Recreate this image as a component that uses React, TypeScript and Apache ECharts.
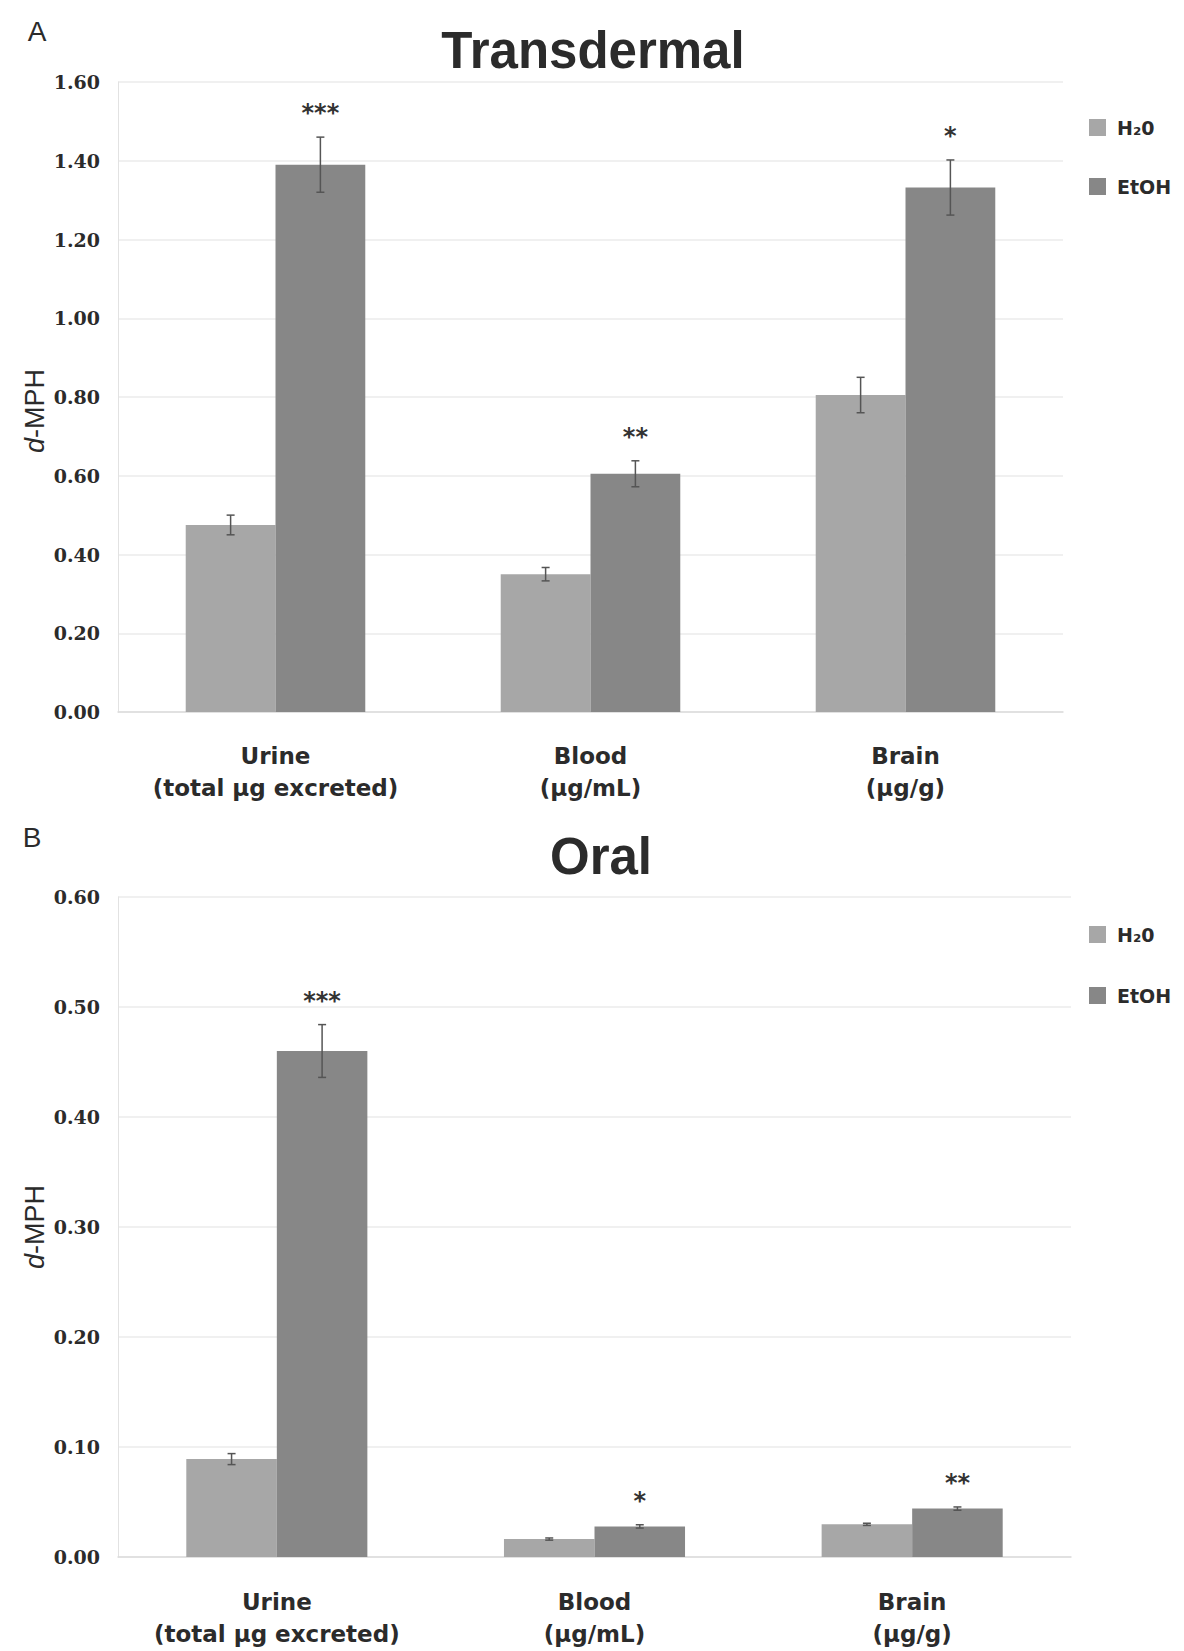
import React, { useEffect, useRef } from "react";
import * as echarts from "echarts";

const categories = ["Urine\n(total µg excreted)", "Blood\n(µg/mL)", "Brain\n(µg/g)"];
const seriesNames = ["H₂0", "EtOH"];

const transH2O = [0.475, 0.35, 0.805];
const transH2OErr = [0.025, 0.017, 0.045];
const transEtOH = [1.39, 0.605, 1.332];
const transEtOHErr = [0.07, 0.033, 0.07];
const transStars = ["***", "**", "*"];

const oralH2O = [0.089, 0.0163, 0.0297];
const oralH2OErr = [0.005, 0.001, 0.001];
const oralEtOH = [0.46, 0.0278, 0.044];
const oralEtOHErr = [0.024, 0.0015, 0.0015];
const oralStars = ["***", "*", "**"];

const transAxis = { min: 0, max: 1.6, interval: 0.2 };
const oralAxis = { min: 0, max: 0.6, interval: 0.1 };

const H2O_COLOR = "#a7a7a7";
const ETOH_COLOR = "#878787";
const TEXT = "#2b2b2b";
const GAP = 0.43;

function errSeries(
  xi: number,
  h2o: number[],
  h2oErr: number[],
  etoh: number[],
  etohErr: number[],
  stars: string[]
) {
  const data: number[][] = [];
  const labels: string[] = [];
  h2o.forEach((v, i) => {
    data.push([i, v, h2oErr[i], -1]);
    labels.push("");
  });
  etoh.forEach((v, i) => {
    data.push([i, v, etohErr[i], 1]);
    labels.push(stars[i]);
  });
  return {
    type: "custom",
    xAxisIndex: xi,
    yAxisIndex: xi,
    z: 5,
    silent: true,
    data,
    encode: { x: 0, y: 1 },
    renderItem: (params: any, api: any) => {
      const x = api.value(0);
      const v = api.value(1);
      const e = api.value(2);
      const side = api.value(3);
      const c = api.coord([x, v]);
      const catW = api.size([1, 0])[0];
      const bw = (catW * (1 - GAP)) / 2;
      const cx = c[0] + (side * bw) / 2;
      const top = api.coord([x, v + e])[1];
      const bot = api.coord([x, v - e])[1];
      const st = { stroke: "#555", lineWidth: 1.5 };
      const children: any[] = [
        { type: "line", shape: { x1: cx, y1: top, x2: cx, y2: bot }, style: st },
        { type: "line", shape: { x1: cx - 4, y1: top, x2: cx + 4, y2: top }, style: st },
        { type: "line", shape: { x1: cx - 4, y1: bot, x2: cx + 4, y2: bot }, style: st },
      ];
      const lab = labels[params.dataIndex];
      if (lab) {
        children.push({
          type: "text",
          x: cx,
          y: top - 24,
          style: {
            text: lab,
            fill: "#333",
            font: "bold 24px 'DejaVu Sans'",
            align: "center",
            verticalAlign: "middle",
          },
        });
      }
      return { type: "group", children };
    },
  };
}

function xAxis(gi: number, margin: number) {
  return {
    type: "category",
    gridIndex: gi,
    data: categories,
    axisLine: { show: true, lineStyle: { color: "#dcdcdc", width: 1.5 } },
    axisTick: { show: false },
    axisLabel: {
      interval: 0,
      margin,
      color: TEXT,
      fontFamily: "DejaVu Sans",
      fontWeight: "bold",
      fontSize: 23,
      lineHeight: 32,
    },
  };
}

function yAxis(gi: number, ax: { min: number; max: number; interval: number }) {
  return {
    type: "value",
    gridIndex: gi,
    min: ax.min,
    max: ax.max,
    interval: ax.interval,
    axisLine: { show: true, lineStyle: { color: "#e2e2e2", width: 1 } },
    axisTick: { show: false },
    splitLine: { show: true, lineStyle: { color: "#ebebeb", width: 1.5 } },
    axisLabel: {
      margin: 18,
      color: TEXT,
      fontFamily: "DejaVu Serif",
      fontWeight: "bold",
      fontSize: 19,
      formatter: (v: number) => v.toFixed(2),
    },
  };
}

function bar(name: string, color: string, data: number[], gi: number) {
  return {
    type: "bar",
    name,
    xAxisIndex: gi,
    yAxisIndex: gi,
    data,
    barGap: "0%",
    barCategoryGap: GAP * 100 + "%",
    itemStyle: { color },
    z: 2,
  };
}

function legend(top: number, gap: number) {
  return {
    data: seriesNames,
    orient: "vertical",
    left: 1084,
    top,
    itemWidth: 17,
    itemHeight: 17,
    itemGap: gap,
    icon: "rect",
    selectedMode: false,
    textStyle: {
      color: TEXT,
      fontFamily: "DejaVu Sans",
      fontWeight: "bold",
      fontSize: 19,
      padding: [0, 0, 0, 6],
    },
  };
}

function yName(x: number, y: number) {
  return {
    type: "text",
    x,
    y,
    rotation: Math.PI / 2,
    style: {
      text: "{i|d}{n|-MPH}",
      align: "center",
      verticalAlign: "middle",
      rich: {
        i: { font: "italic 27px 'Liberation Sans'", fill: TEXT },
        n: { font: "27px 'Liberation Sans'", fill: TEXT },
      },
    },
  };
}

export default function App() {
  const ref = useRef<HTMLDivElement>(null);
  useEffect(() => {
    document.body.style.margin = "0";
    const chart = echarts.init(ref.current!, null, { renderer: "svg" });
    chart.setOption({
      animation: false,
      backgroundColor: "#ffffff",
      grid: [
        { left: 118, top: 82, width: 945, height: 630 },
        { left: 118, top: 897, width: 953, height: 660 },
      ],
      xAxis: [xAxis(0, 28), xAxis(1, 29)],
      yAxis: [yAxis(0, transAxis), yAxis(1, oralAxis)],
      legend: [legend(113, 40), legend(920, 42)],
      series: [
        bar(seriesNames[0], H2O_COLOR, transH2O, 0),
        bar(seriesNames[1], ETOH_COLOR, transEtOH, 0),
        bar(seriesNames[0], H2O_COLOR, oralH2O, 1),
        bar(seriesNames[1], ETOH_COLOR, oralEtOH, 1),
        errSeries(0, transH2O, transH2OErr, transEtOH, transEtOHErr, transStars),
        errSeries(1, oralH2O, oralH2OErr, oralEtOH, oralEtOHErr, oralStars),
      ],
      graphic: [
        {
          type: "text",
          x: 37,
          y: 31,
          style: { text: "A", font: "28px 'Liberation Sans'", fill: TEXT, align: "center", verticalAlign: "middle" },
        },
        {
          type: "text",
          x: 32,
          y: 837,
          style: { text: "B", font: "28px 'Liberation Sans'", fill: TEXT, align: "center", verticalAlign: "middle" },
        },
        {
          type: "text",
          x: 593,
          y: 50,
          style: { text: "Transdermal", font: "bold 51px 'Liberation Sans'", fill: TEXT, align: "center", verticalAlign: "middle" },
        },
        {
          type: "text",
          x: 601,
          y: 856,
          style: { text: "Oral", font: "bold 51px 'Liberation Sans'", fill: TEXT, align: "center", verticalAlign: "middle" },
        },
        yName(35, 411),
        yName(35, 1227),
      ],
    });
    return () => chart.dispose();
  }, []);
  return <div ref={ref} style={{ width: 1184, height: 1651 }} />;
}
